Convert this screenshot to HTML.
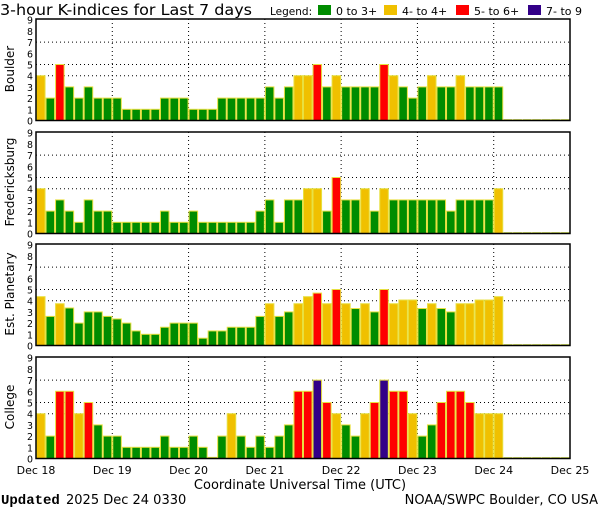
<!DOCTYPE html>
<html><head><meta charset="utf-8"><style>
html,body{margin:0;padding:0;background:#fff;width:600px;height:510px;overflow:hidden}
svg text{font-family:"DejaVu Sans","Liberation Sans",sans-serif}
</style></head><body>
<svg id="s" width="600" height="510" xmlns="http://www.w3.org/2000/svg">
<text x="0" y="15" font-size="15.5" fill="#000" textLength="252" lengthAdjust="spacingAndGlyphs">3-hour K-indices for Last 7 days</text>
<text x="270" y="15" font-size="10.5" fill="#000">Legend:</text>
<rect x="318" y="5" width="13" height="10" fill="#008c00"/>
<text x="336" y="15" font-size="11" fill="#000">0 to 3+</text>
<rect x="384" y="5" width="13" height="10" fill="#f0c000"/>
<text x="402" y="15" font-size="11" fill="#000">4- to 4+</text>
<rect x="456" y="5" width="13" height="10" fill="#ff0000"/>
<text x="474" y="15" font-size="11" fill="#000">5- to 6+</text>
<rect x="528" y="5" width="13" height="10" fill="#330088"/>
<text x="546" y="15" font-size="11" fill="#000">7- to 9</text>
<g id="g"></g>
<text x="300" y="489" font-size="13" text-anchor="middle" fill="#000">Coordinate Universal Time (UTC)</text>
<text x="1" y="504" font-size="14" font-weight="bold" fill="#000" style="font-family:'Liberation Mono',monospace">Updated</text>
<text x="66" y="504" font-size="13" fill="#000">2025 Dec 24 0330</text>
<text x="598" y="504" font-size="13" text-anchor="end" fill="#000">NOAA/SWPC Boulder, CO USA</text>
</svg>
<script>
var G="#008c00",Y="#f0c000",R="#ff0000",P="#330088";
function col(v){return v<3.67?G:v<4.67?Y:v<6.67?R:P;}
var panels=[
{n:"Boulder",top:19,d:[4,2,5,3,2,3,2,2, 2,1,1,1,1,2,2,2, 1,1,1,2,2,2,2,2, 3,2,3,4,4,5,3,4, 3,3,3,3,5,4,3,2, 3,4,3,3,4,3,3,3, 3]},
{n:"Fredericksburg",top:132,d:[4,2,3,2,1,3,2,2, 1,1,1,1,1,2,1,1, 2,1,1,1,1,1,1,2, 3,1,3,3,4,4,2,5, 3,3,4,2,4,3,3,3, 3,3,3,2,3,3,3,3, 4]},
{n:"Est. Planetary",top:244,d:[4.36,2.6,3.73,3.35,2,3,3,2.6, 2.37,2,1.3,1,1,1.63,2,2, 2,0.65,1.3,1.3,1.63,1.63,1.63,2.6, 3.73,2.6,3,3.73,4.36,4.68,3.73,5, 3.73,3.3,3.73,3,5,3.73,4.06,4.06, 3.3,3.73,3.3,3,3.73,3.73,4.06,4.06, 4.36]},
{n:"College",top:357,d:[4,2,6,6,4,5,3,2, 2,1,1,1,1,2,1,1, 2,1,0.1,2,4,2,1,2, 1,2,3,6,6,7,5,4, 3,2,4,5,7,6,6,4, 2,3,5,6,6,5,4,4, 4]}
];
var L=36,Rt=570,W=(Rt-L)/56,U=11.2,h="";
panels.forEach(function(p){
 var z=p.top+101.5;
 [4,5,7].forEach(function(v){var y=z-v*U;h+='<line x1="'+L+'" x2="'+Rt+'" y1="'+y+'" y2="'+y+'" stroke="#000" stroke-width="1" stroke-dasharray="1,3"/>';});
 for(var d=1;d<7;d++){var x=L+d*8*W;h+='<line x1="'+x+'" x2="'+x+'" y1="'+p.top+'" y2="'+z+'" stroke="#000" stroke-width="1" stroke-dasharray="1,3"/>';}
 for(var i=0;i<56;i++){
  var x=L+i*W;
  if(i<p.d.length){var v=p.d[i],hh=v*U;h+='<rect x="'+(x+0.5)+'" y="'+(z-hh)+'" width="'+(W-1)+'" height="'+hh+'" fill="'+col(v)+'" stroke="#e8e040" stroke-width="1"/>';}
  else{h+='<rect x="'+(x+0.5)+'" y="'+(z-1)+'" width="'+(W-1)+'" height="1" fill="'+G+'" stroke="#e8e040" stroke-width="0.6"/>';}
 }
 h+='<rect x="'+L+'" y="'+p.top+'" width="'+(Rt-L)+'" height="'+(z-p.top)+'" fill="none" stroke="#000" stroke-width="1.5"/>';
 for(var v=0;v<=9;v++){h+='<text x="30" y="'+(z-v*U+4)+'" font-size="10" text-anchor="middle" fill="#000" textLength="6" lengthAdjust="spacingAndGlyphs">'+v+'</text>';}
 var cy=p.top+50;
 h+='<text transform="translate(14,'+cy+') rotate(-90)" font-size="12" text-anchor="middle" fill="#000">'+p.n+'</text>';
});
var days=["Dec 18","Dec 19","Dec 20","Dec 21","Dec 22","Dec 23","Dec 24","Dec 25"];
days.forEach(function(t,i){h+='<text x="'+(L+i*8*W)+'" y="474" font-size="11" text-anchor="middle" fill="#000">'+t+'</text>';});
document.getElementById("g").innerHTML=h;
</script>
</body></html>
